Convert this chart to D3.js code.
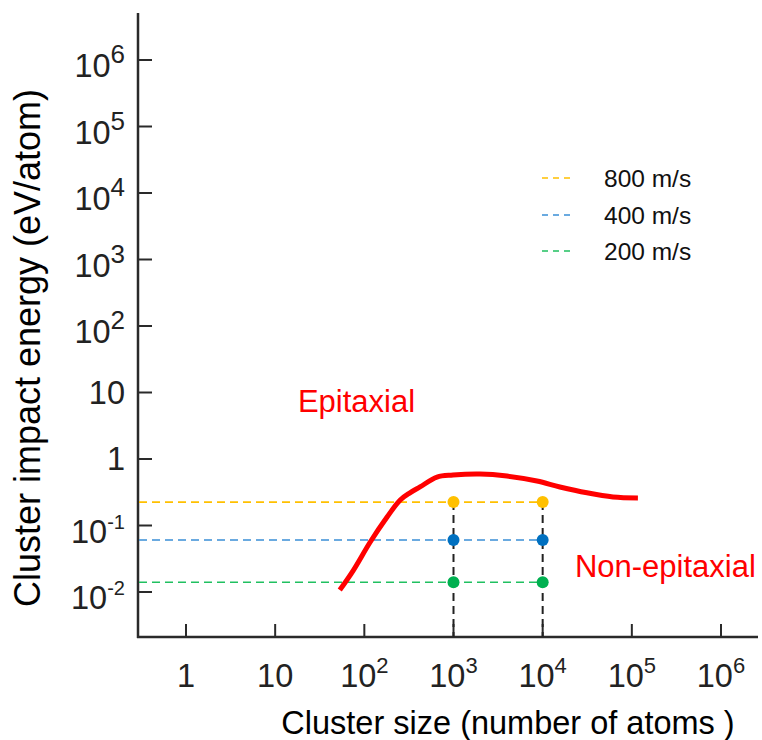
<!DOCTYPE html>
<html>
<head>
<meta charset="utf-8">
<script src="https://cdn.jsdelivr.net/npm/d3@7"></script>
<style>
  body { margin: 0; background: #fff; }
  text { font-family: "Liberation Sans", Arial, sans-serif; }
</style>
</head>
<body>
<div id="chart"></div>
<script>
// Data
const clusterSizes = [53, 75, 116, 180, 251, 325, 421, 653, 987, 1980, 3980, 8630, 15600, 31400, 61500, 117000];
const impactEnergy = [0.0107, 0.021, 0.056, 0.134, 0.24, 0.31, 0.38, 0.536, 0.574, 0.594, 0.554, 0.467, 0.38, 0.31, 0.269, 0.26];

const speeds = ["800 m/s", "400 m/s", "200 m/s"];
const speedEnergy = [0.225, 0.0605, 0.014];
const speedLine = ["#ffc000", "#3a8fd6", "#20c060"];
const speedDot = ["#ffc000", "#0070c0", "#00b050"];
const markerSizes = [1e3, 1e4];

const xTicks = [0, 1, 2, 3, 4, 5, 6];      // exponents
const yTicks = [-2, -1, 0, 1, 2, 3, 4, 5, 6];

const width = 762;
const height = 740;
const axisX = 138, axisY = 637, axisTop = 13, axisRight = 758;

const svg = d3.select("#chart").append("svg")
  .attr("width", width)
  .attr("height", height);

const x = d3.scaleLog().domain([1, 1e6]).range([186, 721]);
const y = d3.scaleLog().domain([1e-2, 1e6]).range([592, 60]);

// Axes lines
svg.append("line")
  .attr("x1", axisX).attr("x2", axisX)
  .attr("y1", axisTop).attr("y2", axisY + 1)
  .attr("stroke", "#2a2a2a").attr("stroke-width", 2.5);
svg.append("line")
  .attr("x1", axisX - 1).attr("x2", axisRight)
  .attr("y1", axisY).attr("y2", axisY)
  .attr("stroke", "#2a2a2a").attr("stroke-width", 2.5);

// Ticks (inward)
svg.selectAll(".xtick").data(xTicks).join("line")
  .attr("x1", d => x(Math.pow(10, d))).attr("x2", d => x(Math.pow(10, d)))
  .attr("y1", axisY).attr("y2", axisY - 13)
  .attr("stroke", "#2a2a2a").attr("stroke-width", 2);
svg.selectAll(".ytick").data(yTicks).join("line")
  .attr("x1", axisX).attr("x2", axisX + 14)
  .attr("y1", d => y(Math.pow(10, d))).attr("y2", d => y(Math.pow(10, d)))
  .attr("stroke", "#2a2a2a").attr("stroke-width", 2);

// Tick labels
function powerLabel(sel, e, supSize) {
  if (e === 0) { sel.text("1"); return; }
  if (e === 1) { sel.text("10"); return; }
  sel.append("tspan").text("10");
  sel.append("tspan").attr("dy", -14).attr("font-size", supSize).text(e);
}

xTicks.forEach(e => {
  const t = svg.append("text")
    .attr("x", x(Math.pow(10, e)))
    .attr("y", 687)
    .attr("text-anchor", "middle")
    .attr("font-size", 32.5)
    .attr("fill", "#222");
  powerLabel(t, e, 22);
});

yTicks.forEach(e => {
  const t = svg.append("text")
    .attr("x", 125)
    .attr("y", y(Math.pow(10, e)) + (e > 1 || e < 0 ? 17 : 11))
    .attr("text-anchor", "end")
    .attr("font-size", 32.5)
    .attr("fill", "#222");
  powerLabel(t, e, e < 0 ? 20 : 26);
});

// Axis titles
svg.append("text")
  .attr("x", 508)
  .attr("y", 734)
  .attr("text-anchor", "middle")
  .attr("font-size", 32.5)
  .attr("fill", "#000")
  .text("Cluster size (number of atoms )");

svg.append("text")
  .attr("transform", "translate(40,348) rotate(-90)")
  .attr("text-anchor", "middle")
  .attr("font-size", 36)
  .attr("fill", "#000")
  .text("Cluster impact energy (eV/atom)");

// Horizontal dashed speed lines
svg.selectAll(".hline").data(speedEnergy).join("line")
  .attr("x1", axisX + 1).attr("x2", x(markerSizes[1]))
  .attr("y1", d => y(d)).attr("y2", d => y(d))
  .attr("stroke", (d, i) => speedLine[i])
  .attr("stroke-width", 1.6)
  .attr("stroke-dasharray", "8,5");

// Vertical dashed lines
svg.selectAll(".vline").data(markerSizes).join("line")
  .attr("x1", d => x(d)).attr("x2", d => x(d))
  .attr("y1", y(speedEnergy[0])).attr("y2", axisY)
  .attr("stroke", "#222")
  .attr("stroke-width", 2)
  .attr("stroke-dasharray", "8,5");

// Red curve
const line = d3.line()
  .x(d => x(d[0]))
  .y(d => y(d[1]))
  .curve(d3.curveCatmullRom.alpha(0.5));

svg.append("path")
  .datum(clusterSizes.map((s, i) => [s, impactEnergy[i]]))
  .attr("fill", "none")
  .attr("stroke", "#ff0000")
  .attr("stroke-width", 5)
  .attr("stroke-linecap", "butt")
  .attr("d", line);

// Dots
speedEnergy.forEach((en, i) => {
  svg.selectAll(null).data(markerSizes).join("circle")
    .attr("cx", d => x(d))
    .attr("cy", y(en))
    .attr("r", 6)
    .attr("fill", speedDot[i]);
});

// Region labels
svg.append("text")
  .attr("x", x(18)).attr("y", y(5.1))
  .attr("font-size", 31)
  .attr("fill", "#ff0000")
  .text("Epitaxial");

svg.append("text")
  .attr("x", x(23000)).attr("y", y(0.017))
  .attr("font-size", 31)
  .attr("fill", "#ff0000")
  .text("Non-epitaxial");

// Legend
const legendY = [178, 215, 251];
speeds.forEach((s, i) => {
  svg.append("line")
    .attr("x1", 542).attr("x2", 574)
    .attr("y1", legendY[i]).attr("y2", legendY[i])
    .attr("stroke", speedLine[i])
    .attr("stroke-width", 1.6)
    .attr("stroke-dasharray", "6,5");
  svg.append("text")
    .attr("x", 604).attr("y", legendY[i] + 9)
    .attr("font-size", 24.5)
    .attr("fill", "#111")
    .text(s);
});
</script>
</body>
</html>
